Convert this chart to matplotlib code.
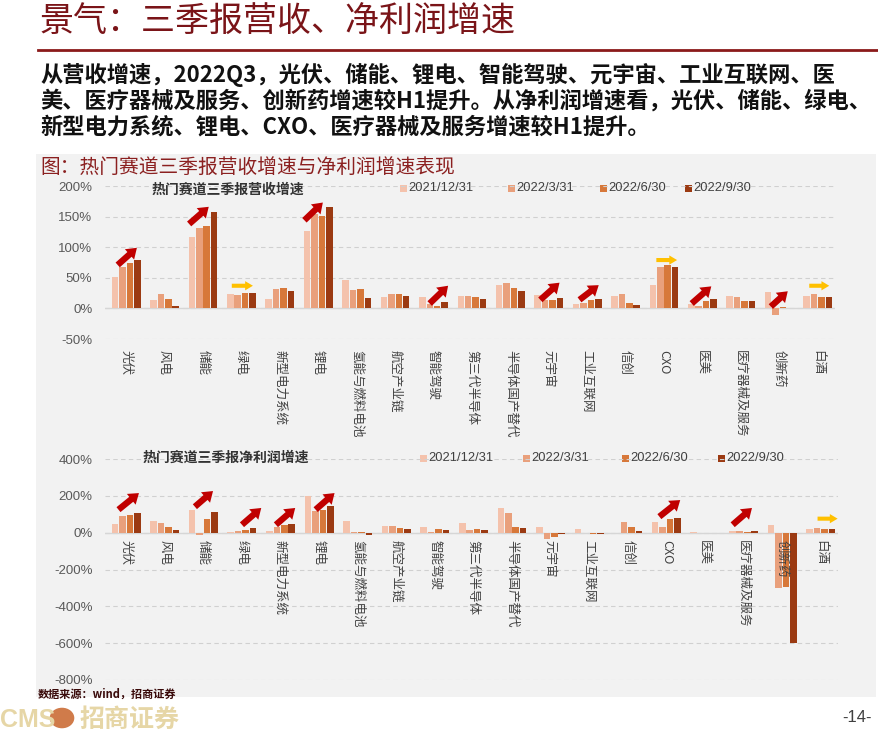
import numpy as np
import matplotlib
matplotlib.use('Agg')
import matplotlib.pyplot as plt
from matplotlib.patches import Rectangle, Circle

CJK = ['Noto Sans CJK SC', 'DejaVu Sans']
NUM = ['Liberation Sans', 'Noto Sans CJK SC']
plt.rcParams['font.family'] = CJK

categories = ['光伏', '风电', '储能', '绿电', '新型电力系统', '锂电', '氢能与燃料电池',
              '航空产业链', '智能驾驶', '第三代半导体', '半导体国产替代', '元宇宙',
              '工业互联网', '信创', 'CXO', '医美', '医疗器械及服务', '创新药', '白酒']
periods = ['2021/12/31', '2022/3/31', '2022/6/30', '2022/9/30']

# 营收增速 (%)
rev_2112 = [52, 14, 117, 23, 15, 126, 47, 18, 18, 20, 39, 22, 7, 20, 39, 7, 21, 26, 20]
rev_2203 = [68, 24, 132, 22, 32, 155, 30, 24, 8, 20, 41, 14, 9, 23, 68, 4, 18, -10, 23]
rev_2206 = [75, 15, 135, 25, 34, 151, 31, 24, 4, 18, 33, 13, 14, 9, 71, 12, 12, 2, 19]
rev_2209 = [79, 4, 157, 25, 28, 165, 17, 20, 11, 16, 29, 17, 15, 5, 67, 16, 12, 1, 19]

# 净利润增速 (%)
np_2112 = [49, 62, 122, 2, 11, 200, 62, 35, 29, 50, 136, 30, 18, 0, 57, 1, 11, 41, 18]
np_2203 = [89, 51, -11, 11, 33, 118, 1, 35, 5, 14, 107, -34, 0, 59, 29, 0, 7, -300, 23]
np_2206 = [98, 29, 73, 15, 40, 124, 1, 24, 22, 20, 29, -21, -9, 29, 73, 0, 5, -295, 20]
np_2209 = [105, 13, 113, 25, 45, 144, -15, 18, 16, 14, 25, -9, -9, 9, 82, -2, 9, -600, 20]

colors = ['#F4C2AC', '#E9A07C', '#D7783A', '#9B3A12']
RED = '#C00000'
YEL = '#FFC000'

# arrows: (category, dx0, y0, dx1, y1, colour)
rev_arrows = [(0, -0.22, 71, 0.28, 99, RED), (2, -0.36, 138, 0.15, 166, RED),
              (5, -0.36, 144, 0.12, 173, RED), (8, -0.1, 8, 0.38, 37, RED),
              (11, -0.22, 14, 0.28, 42, RED), (12, -0.2, 14, 0.3, 38, RED),
              (15, -0.28, 8, 0.23, 36, RED), (17, -0.22, 3, 0.22, 28, RED),
              (3, -0.25, 37, 0.3, 37, YEL), (14, -0.2, 79, 0.34, 79, YEL),
              (18, -0.22, 37, 0.3, 37, YEL)]
np_arrows = [(0, -0.2, 125, 0.33, 215, RED), (2, -0.22, 141, 0.25, 226, RED),
             (3, 0.0, 43, 0.5, 134, RED), (4, -0.12, 43, 0.38, 134, RED),
             (5, -0.09, 125, 0.4, 215, RED), (14, -0.18, 87, 0.36, 177, RED),
             (16, -0.28, 43, 0.22, 134, RED), (18, -0.08, 76, 0.44, 76, YEL)]


def bars(ax, series, arrows):
    x = np.arange(len(categories))
    offs = [-0.29, -0.097, 0.097, 0.29]
    for vals, off, c in zip(series, offs, colors):
        ax.bar(x + off, vals, width=0.17, color=c, zorder=3)
    for i, dx0, y0, dx1, y1, c in arrows:
        if c == RED:
            style, ms = 'simple,head_width=1.05,head_length=0.75,tail_width=0.48', 9.5
        else:
            style, ms = 'simple,head_width=0.95,head_length=0.8,tail_width=0.42', 7
        ax.annotate('', xy=(i + dx1, y1), xytext=(i + dx0, y0),
                    arrowprops=dict(arrowstyle=style, mutation_scale=ms, color=c, lw=0,
                                    shrinkA=0, shrinkB=0),
                    zorder=5)
    ax.set_facecolor('none')
    ax.set_zorder(2)
    for s in ax.spines.values():
        s.set_visible(False)
    ax.grid(axis='y', color='#D0D0D0', linestyle=(0, (4, 3)), linewidth=0.8, zorder=0)
    ax.axhline(0, color='#D6D6D6', linewidth=1.0, zorder=2)
    ax.set_xlim(-0.55, 18.45)
    ax.tick_params(axis='y', length=0, labelsize=9.5, labelcolor='#595959', pad=9)
    for t in ax.get_yticklabels():
        t.set_family(NUM)


fig = plt.figure(figsize=(8.79, 7.34), dpi=100)
fig.patch.set_facecolor('white')

def fx(px):
    return px / 879

def fy(py):
    return 1 - py / 734

# gray panel
fig.patches.append(Rectangle((fx(36), fy(697)), fx(840), fy(154) - fy(697),
                             transform=fig.transFigure, facecolor='#F2F2F2',
                             edgecolor='none', zorder=-5))

fig.text(fx(40), fy(22), '景气：三季报营收、净利润增速', fontsize=24.5, color='#7A1418',
         va='center', ha='left', fontweight='medium')
fig.add_artist(plt.Line2D([fx(38), 1.0], [fy(50), fy(50)], color='#8B1A1A', linewidth=2,
                          transform=fig.transFigure))
para = ['从营收增速，2022Q3，光伏、储能、锂电、智能驾驶、元宇宙、工业互联网、医',
        '美、医疗器械及服务、创新药增速较H1提升。从净利润增速看，光伏、储能、绿电、',
        '新型电力系统、锂电、CXO、医疗器械及服务增速较H1提升。']
for k, line in enumerate(para):
    fig.text(fx(40), fy(75 + 26 * k), line, fontsize=16.0, fontweight='bold',
             color='#111111', va='center', ha='left')

fig.text(fx(40), fy(167), '图：热门赛道三季报营收增速与净利润增速表现', fontsize=14.2,
         color='#8B2020', va='center', ha='left')

# top chart: revenue growth
ax1 = fig.add_axes([fx(105), fy(339), fx(730), fy(186) - fy(339)])
bars(ax1, [rev_2112, rev_2203, rev_2206, rev_2209], rev_arrows)
ax1.set_ylim(-50, 200)
ax1.set_yticks([-50, 0, 50, 100, 150, 200])
ax1.set_yticklabels(['-50%', '0%', '50%', '100%', '150%', '200%'])
ax1.set_xticks(np.arange(len(categories)))
ax1.set_xticklabels(categories, rotation=-90, fontsize=9, color='#404040', va='top', ha='center')
ax1.tick_params(axis='x', length=0, pad=8)
for t in ax1.get_xticklabels():
    t.set_family(['Noto Sans CJK SC', 'DejaVu Sans'])

# bottom chart: net profit growth
ax2 = fig.add_axes([fx(105), fy(680), fx(733), fy(459) - fy(680)])
bars(ax2, [np_2112, np_2203, np_2206, np_2209], np_arrows)
ax2.set_ylim(-800, 400)
ax2.set_yticks(np.arange(-800, 401, 200))
ax2.set_yticklabels([f'{v}%' for v in range(-800, 401, 200)])
ax2.set_xticks([])
for i, name in enumerate(categories):
    ax2.text(i, -40, name, rotation=-90, fontsize=9, color='#404040', va='top', ha='center',
             zorder=4)

fig.text(fx(228), fy(190), '热门赛道三季报营收增速', fontsize=10, fontweight='bold',
         color='#333333', ha='center', va='center')
fig.text(fx(226), fy(458), '热门赛道三季报净利润增速', fontsize=10, fontweight='bold',
         color='#333333', ha='center', va='center')

# legends
for xs, yc in [([400, 508, 600, 685], 188), ([420, 523, 622, 718], 458)]:
    for xp, c, lab in zip(xs, colors, periods):
        fig.patches.append(Rectangle((fx(xp), fy(yc + 3.5)), fx(7), fy(yc - 3.5) - fy(yc + 3.5),
                                     transform=fig.transFigure, facecolor=c, edgecolor='none'))
        fig.text(fx(xp + 8), fy(yc), lab, fontsize=9.3, color='#404040', family=NUM,
                 ha='left', va='center')

# footer / logo
fig.text(fx(0), fy(720), 'CMS', fontsize=18, fontweight='bold', color='#E6D6A6',
         family=NUM, ha='left', va='center')
fig.patches.append(Circle((fx(62), fy(718)), 0.014, transform=fig.transFigure,
                          facecolor='#C8642A', edgecolor='none', alpha=0.85))
fig.text(fx(80), fy(720), '招商证券', fontsize=18, fontweight='bold', color='#E6D6A6',
         ha='left', va='center')
fig.text(fx(38), fy(694), '数据来源：wind，招商证券', fontsize=8, fontweight='bold',
         color='#3A0A0A', ha='left', va='center', zorder=5)
fig.text(fx(872), fy(718), '-14-', fontsize=12, color='#404040', family=NUM,
         ha='right', va='center')

fig.savefig('out.png', dpi=100)
